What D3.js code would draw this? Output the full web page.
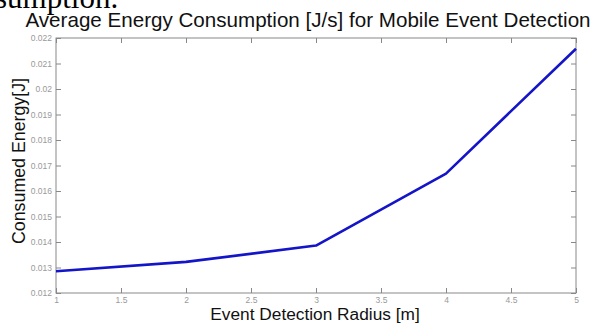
<!DOCTYPE html>
<html><head><meta charset="utf-8">
<script src="https://cdn.jsdelivr.net/npm/d3@7"></script>
<style>body{margin:0;background:#fff;overflow:hidden}svg{display:block}</style>
</head><body>
<script>
const radius = [1, 2, 3, 4, 5];
const energy = [0.01285, 0.01322, 0.01386, 0.01668, 0.02158];
const xTicks = [1, 1.5, 2, 2.5, 3, 3.5, 4, 4.5, 5];
const yTicks = [0.012, 0.013, 0.014, 0.015, 0.016, 0.017, 0.018, 0.019, 0.02, 0.021, 0.022];

const W = 605, H = 323;
const m = {left: 56, right: 29, top: 38, bottom: 30};
const svg = d3.select("body").append("svg").attr("width", W).attr("height", H);

const x = d3.scaleLinear().domain([1, 5]).range([m.left, W - m.right]);
const y = d3.scaleLinear().domain([0.012, 0.022]).range([H - m.bottom, m.top]);

// cropped document text
svg.append("text").attr("x", -5).attr("y", 8).attr("font-family", "Liberation Serif, Times New Roman, serif")
  .attr("font-size", 31).attr("fill", "#000").text("sumption.");

svg.append("text").attr("x", 308).attr("y", 27).attr("text-anchor", "middle")
  .attr("font-family", "Liberation Sans, Arial, sans-serif").attr("font-size", 20.6).attr("fill", "#111")
  .text("Average Energy Consumption [J/s] for Mobile Event Detection");

const gray = "#888";
svg.append("rect").attr("x", m.left).attr("y", m.top).attr("width", W - m.right - m.left)
  .attr("height", H - m.bottom - m.top).attr("fill", "none").attr("stroke", gray).attr("stroke-width", 1);

const fmtY = d => String(+d.toFixed(3));
const bottomAx = d3.axisBottom(x).tickValues(xTicks).tickSize(-5).tickPadding(4).tickFormat(d => String(d));
const topAx = d3.axisTop(x).tickValues(xTicks).tickSize(-5).tickFormat("");
const leftAx = d3.axisLeft(y).tickValues(yTicks).tickSize(-5).tickPadding(4).tickFormat(fmtY);
const rightAx = d3.axisRight(y).tickValues(yTicks).tickSize(-5).tickFormat("");

function style(g){
  g.select(".domain").remove();
  g.selectAll("line").attr("stroke", gray);
  g.selectAll("text").attr("fill", "#999").attr("font-family", "Liberation Sans, Arial, sans-serif").attr("font-size", 8.5);
}
svg.append("g").attr("transform", `translate(0,${H - m.bottom})`).call(bottomAx).call(style);
svg.append("g").attr("transform", `translate(0,${m.top})`).call(topAx).call(style);
svg.append("g").attr("transform", `translate(${m.left},0)`).call(leftAx).call(style);
svg.append("g").attr("transform", `translate(${W - m.right},0)`).call(rightAx).call(style);

const line = d3.line().x((d, i) => x(radius[i])).y(d => y(d));
svg.append("path").datum(energy).attr("d", line).attr("fill", "none")
  .attr("stroke", "#1414c8").attr("stroke-width", 2.6).attr("stroke-linejoin", "round");

svg.append("text").attr("x", 315).attr("y", 320).attr("text-anchor", "middle")
  .attr("font-family", "Liberation Sans, Arial, sans-serif").attr("font-size", 17.3).attr("fill", "#111")
  .text("Event Detection Radius [m]");

svg.append("text").attr("transform", "translate(25,161) rotate(-90)").attr("text-anchor", "middle")
  .attr("font-family", "Liberation Sans, Arial, sans-serif").attr("font-size", 17.8).attr("fill", "#111")
  .text("Consumed Energy[J]");
</script>
</body></html>
